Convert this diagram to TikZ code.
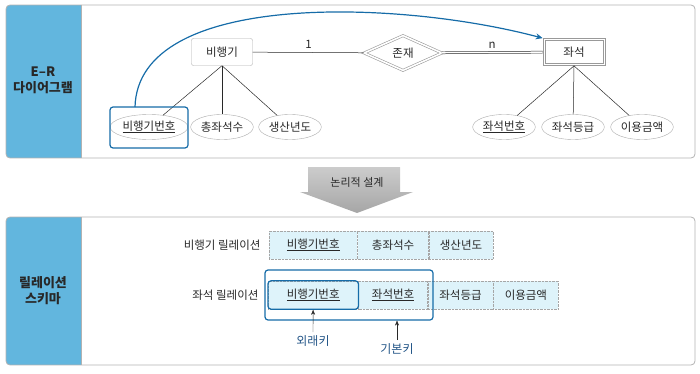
\documentclass[tikz,border=0pt]{standalone}
\usepackage{fontspec}
\setmainfont{Noto Sans CJK KR}
\usetikzlibrary{positioning,shapes.geometric,arrows.meta,fit}
\definecolor{keyblue}{RGB}{22,108,168}
\definecolor{sideblue}{RGB}{98,182,222}
\definecolor{cellfill}{RGB}{222,243,250}
\definecolor{textdark}{RGB}{40,40,40}
\definecolor{labelblue}{RGB}{35,85,135}
\begin{document}
\begin{tikzpicture}[x=1pt, y=-1pt, font=\fontsize{11.5}{13}\selectfont, text=textdark,
		panel/.style={draw=gray!60, rounded corners=4pt, line width=0.8pt, minimum width=689pt},
		sidelabel/.style={align=center, font=\fontsize{13}{16}\selectfont\bfseries},
		entity/.style={draw=gray!65, rounded corners=2pt, minimum width=61pt, minimum height=27pt},
		weakentity/.style={draw=gray!80, line width=0.7pt, minimum width=62pt, minimum height=27pt},
		relation/.style={diamond, draw=gray!80, line width=0.6pt, double, double distance=1.6pt, aspect=2.2, inner sep=1pt, minimum width=78pt, minimum height=35pt},
		attr/.style={ellipse, draw=gray!65, fill=white, inner sep=1pt, minimum height=25pt},
		attrline/.style={draw=textdark, line width=0.5pt},
		keybox/.style={draw=keyblue, rounded corners=3pt, line width=1.2pt},
		cell/.style={draw=gray!70, densely dotted, fill=cellfill, minimum height=28pt, inner sep=2pt},
		keylabel/.style={text=labelblue, font=\fontsize{12}{14}\selectfont}]
		\useasboundingbox (0,0) rectangle (700,374);
		
		\begin{scope}
			\clip[rounded corners=4pt] (6,5) rectangle (695,158);
			\fill[sideblue] (6,5) rectangle (81,158);
		\end{scope}
		\draw[gray!60] (81,5) -- (81,158);
		\node (erpanel) [panel, minimum height=153pt] at (350.5,81.5) {};
		\node (erlabel) [sidelabel] at (43,80) {E–R\\다이어그램};
		
		\node (plane) [entity] at (222,52) {비행기};
		\node (exist) [relation] at (403,53) {존재};
		\node (seat) [weakentity] at (574,52) {좌석};
		\node (seatin) [weakentity, fit=(seat), inner sep=-2.5pt, minimum width=0pt, minimum height=0pt] {};
		
		\draw[attrline] (plane) -- node[above] {1} (exist);
		\draw[attrline, double, double distance=1.5pt] (exist) -- node[above] {n} (seat);
		
		\node (pno) [attr, minimum width=72pt] at (149,127) {\underline{비행기번호}};
		\node (seats) [attr, minimum width=59pt] at (222,127) {총좌석수};
		\node (year) [attr, minimum width=60pt] at (290,127) {생산년도};
		\node (sno) [attr, minimum width=53pt] at (504,127) {\underline{좌석번호}};
		\node (grade) [attr, minimum width=55pt] at (573,127) {좌석등급};
		\node (price) [attr, minimum width=60pt] at (642,127) {이용금액};
		
		\draw[attrline] (plane.south) -- (pno);
		\draw[attrline] (plane.south) -- (seats);
		\draw[attrline] (plane.south) -- (year);
		\draw[attrline] (seat.south) -- (sno);
		\draw[attrline] (seat.south) -- (grade);
		\draw[attrline] (seat.south) -- (price);
		
		\node (pnobox) [keybox, minimum width=78pt, minimum height=41pt] at (149,127.5) {};
		\coordinate (curvestart) at (135,107);
		\draw[keyblue, line width=1.2pt, -{Stealth[length=7pt,width=6pt]}] (curvestart) .. controls (138,-10) and (400,0) .. (seat.north west);
		
		\shade[top color=gray!40, bottom color=gray!70] (308,167) -- (400,167) -- (400,192) -- (413,192) -- (357,213) -- (300,192) -- (308,192) -- cycle;
		\node (design) [font=\fontsize{11}{13}\selectfont] at (357,182) {논리적 설계};
		
		\begin{scope}
			\clip[rounded corners=4pt] (6,217) rectangle (695,365);
			\fill[sideblue] (6,217) rectangle (81,365);
		\end{scope}
		\draw[gray!60] (81,217) -- (81,365);
		\node (relpanel) [panel, minimum height=148pt] at (350.5,291) {};
		\node (rellabel) [sidelabel] at (43,291) {릴레이션\\스키마};
		
		\node (planerel) [anchor=east] at (264,245) {비행기 릴레이션};
		\node (r1a) [cell, minimum width=88pt, anchor=west] at (269,245) {\underline{비행기번호}};
		\node (r1b) [cell, minimum width=71pt, right=0pt of r1a] {총좌석수};
		\node (r1c) [cell, minimum width=64pt, right=0pt of r1b] {생산년도};
		
		\node (seatrel) [anchor=east] at (262,295) {좌석 릴레이션};
		\node (r2a) [cell, minimum width=90pt, anchor=west] at (268,295) {\underline{비행기번호}};
		\node (r2b) [cell, minimum width=69pt, right=0pt of r2a] {\underline{좌석번호}};
		\node (r2c) [cell, minimum width=65pt, right=0pt of r2b] {좌석등급};
		\node (r2d) [cell, minimum width=65pt, right=0pt of r2c] {이용금액};
		
		\node (fkcell) [keybox, fit=(r2a), inner sep=0pt] {};
		\node (pkbox) [keybox, minimum width=168pt, minimum height=50pt] at (349,295) {};
		
		\node (fklabel) [keylabel] at (313,341) {외래키};
		\node (pklabel) [keylabel] at (397,349) {기본키};
		\coordinate (pkfoot) at (pklabel |- pkbox.south);
		\draw[textdark, -{Stealth[length=5pt,width=4pt]}] (fklabel.north) -- (fkcell);
		\draw[textdark, -{Stealth[length=5pt,width=4pt]}] (pklabel.north) -- (pkfoot);
		
	\end{tikzpicture}
\end{document}
